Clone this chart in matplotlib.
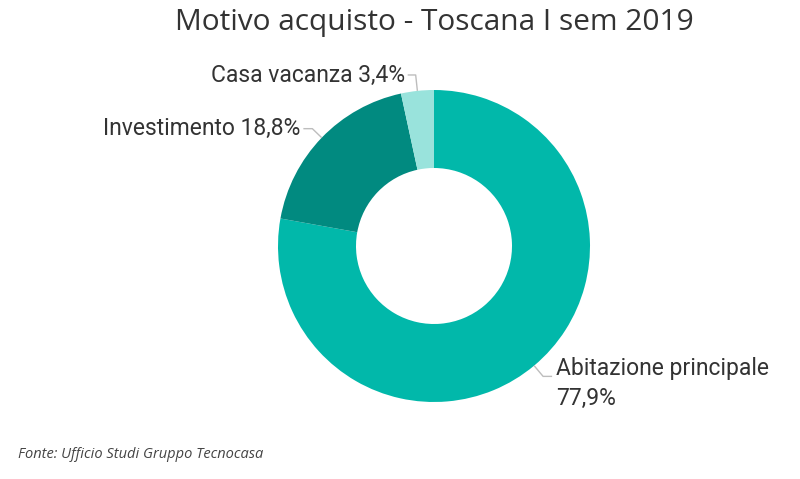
import matplotlib
matplotlib.use("Agg")
import matplotlib.pyplot as plt
import numpy as np

categories = ["Abitazione principale", "Investimento", "Casa vacanza"]
values = [77.9, 18.8, 3.4]
value_labels = ["77,9%", "18,8%", "3,4%"]
colors = ["#01B8AA", "#018A80", "#99E3DC"]
title = "Motivo acquisto - Toscana I sem 2019"
source = "Fonte: Ufficio Studi Gruppo Tecnocasa"

W, H = 800, 479
fig = plt.figure(figsize=(W / 100, H / 100), dpi=100)
ax = fig.add_axes([0, 0, 1, 1])

cx, cy, R = 434, H - 246, 156
wedges, _ = ax.pie(values, colors=colors, startangle=90, counterclock=False,
                   radius=R, center=(cx, cy), frame=True,
                   wedgeprops=dict(width=R * 0.5, edgecolor="none"))
ax.set_xlim(0, W)
ax.set_ylim(0, H)
ax.set_aspect("equal")
ax.axis("off")

lab_font = dict(family=["Roboto", "DejaVu Sans"], fontsize=16.5, color="#333333")
line_col = "#BDBDBD"

placements = [
    dict(ha="left", dx=1, elbow=14, hor=9, gap=4, two_lines=True),
    dict(ha="right", dx=-1, elbow=13, hor=9, gap=3, two_lines=False),
    dict(ha="right", dx=-1, elbow=16, hor=8, gap=3, two_lines=False),
]

for w, cat, vl, pl in zip(wedges, categories, value_labels, placements):
    ang = np.deg2rad((w.theta1 + w.theta2) / 2)
    x0, y0 = cx + R * np.cos(ang), cy + R * np.sin(ang)
    x1, y1 = cx + (R + pl["elbow"]) * np.cos(ang), cy + (R + pl["elbow"]) * np.sin(ang)
    x2 = x1 + pl["dx"] * pl["hor"]
    ax.plot([x0, x1, x2], [y0, y1, y1], color=line_col, lw=1, solid_capstyle="butt")
    tx = x2 + pl["dx"] * pl["gap"]
    if pl["two_lines"]:
        ax.text(tx, y1 + 8, cat, ha="left", va="center", **lab_font)
        ax.text(tx, y1 - 22, vl, ha="left", va="center", **lab_font)
    else:
        ax.text(tx, y1, f"{cat} {vl}", ha=pl["ha"], va="center", **lab_font)

ax.text(434, H - 22, title, ha="center", va="center",
        family=["Open Sans", "DejaVu Sans"], fontsize=21.5, color="#333333")
ax.text(18, H - 455, source, ha="left", va="center", style="italic",
        family=["Open Sans", "DejaVu Sans"], fontsize=10.5, color="#444444")

fig.savefig("out.png", dpi=100, facecolor="white")
